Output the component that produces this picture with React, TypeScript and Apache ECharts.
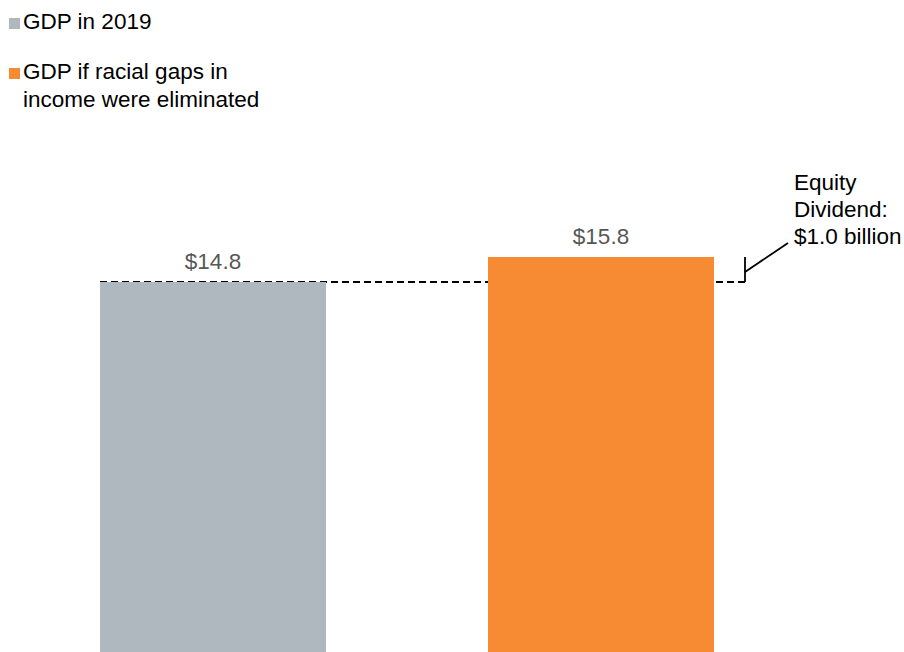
import React, { useEffect, useRef } from "react";
import * as echarts from "echarts";

const categories = ["GDP in 2019", "GDP if racial gaps in income were eliminated"];
const legendLabels = ["GDP in 2019", "GDP if racial gaps in\nincome were eliminated"];
const values = [14.8, 15.8];
const colors = ["#AEB8BE", "#F68B33"];
const annotationLines = ["Equity", "Dividend:", "$1.0 billion"];

const FONT = "Liberation Sans, Arial, sans-serif";
const FS = 22.5;

export default function App() {
  const ref = useRef<HTMLDivElement>(null);
  useEffect(() => {
    if (!ref.current) return;
    const chart = echarts.init(ref.current, null, { renderer: "svg" });
    const barWidth = 226;
    const series = values.map((v, i) => ({
      name: categories[i],
      type: "bar",
      barWidth,
      barGap: "-100%",
      data: values.map((_, j) => (j === i ? v : "-")),
      itemStyle: { color: colors[i] },
      label: {
        show: true,
        position: "top",
        distance: 9,
        color: "#575757",
        fontSize: FS,
        fontFamily: FONT,
        formatter: (p: any) => "$" + Number(p.value).toFixed(1),
      },
    }));
    chart.setOption({
      animation: false,
      grid: { left: 19, right: 109, top: 252, bottom: 0 },
      xAxis: { type: "category", data: categories, show: false },
      yAxis: { type: "value", min: 0, max: 16, show: false },
      series,
    });

    const p0 = chart.convertToPixel({ gridIndex: 0 }, [0, values[0]]) as number[];
    const p1 = chart.convertToPixel({ gridIndex: 0 }, [1, values[1]]) as number[];
    const lineLeft = p0[0] - barWidth / 2;
    const tickX = p1[0] + barWidth / 2 + 31;
    const baseY = p0[1];
    const topY = p1[1];
    const diagStartY = baseY - 10;
    const textX = tickX + 49;

    const legendItems: any[] = [];
    const legendY = [21.5, 71.5];
    legendLabels.forEach((lab, i) => {
      legendItems.push({
        type: "rect",
        shape: { x: 9, y: legendY[i] - 3.5, width: 11, height: 11 },
        style: { fill: colors[i] },
      });
      lab.split("\n").forEach((line, k) => {
        legendItems.push({
          type: "text",
          x: 23,
          y: legendY[i] + k * 27.5,
          style: {
            text: line,
            fill: "#000",
            fontSize: FS,
            fontFamily: FONT,
            verticalAlign: "middle",
            align: "left",
          },
        });
      });
    });

    const annotation: any[] = [
      {
        type: "line",
        shape: { x1: lineLeft, y1: baseY, x2: tickX, y2: baseY },
        style: { stroke: "#000", lineWidth: 2, lineDash: [7, 4] },
      },
      {
        type: "line",
        shape: { x1: tickX, y1: baseY, x2: tickX, y2: topY },
        style: { stroke: "#000", lineWidth: 1.8 },
      },
      {
        type: "line",
        shape: { x1: tickX, y1: diagStartY, x2: tickX + 43, y2: diagStartY - 29 },
        style: { stroke: "#000", lineWidth: 1.8 },
      },
    ];
    annotationLines.forEach((t, k) => {
      annotation.push({
        type: "text",
        x: textX,
        y: 182 + k * 27,
        style: {
          text: t,
          fill: "#000",
          fontSize: FS,
          fontFamily: FONT,
          verticalAlign: "middle",
          align: "left",
        },
      });
    });

    chart.setOption({ graphic: [...legendItems, ...annotation] });
    return () => chart.dispose();
  }, []);
  return (
    <div
      ref={ref}
      style={{ position: "absolute", left: 0, top: 0, width: 904, height: 652, background: "#fff" }}
    />
  );
}
